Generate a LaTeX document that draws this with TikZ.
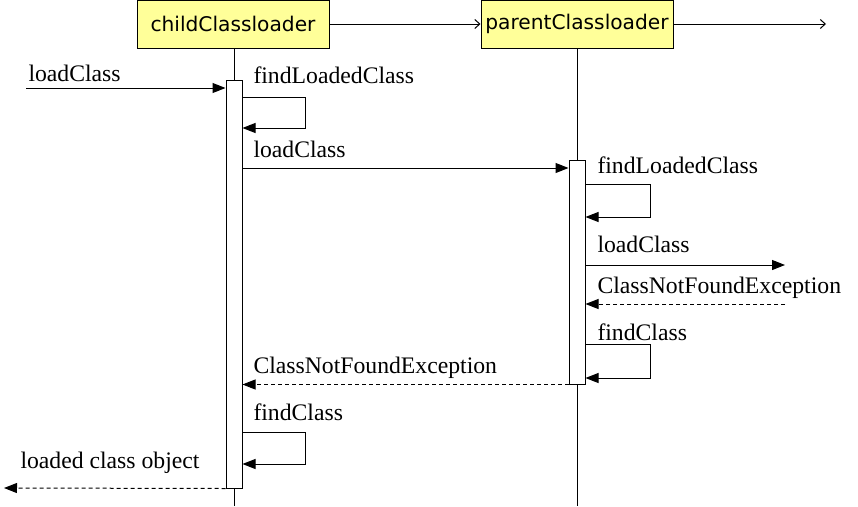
\documentclass[tikz,border=0pt]{standalone}
\usepackage{fontspec}
\setmainfont{Liberation Serif}
\newfontfamily\headfont{DejaVu Sans}
\usetikzlibrary{arrows.meta}
\definecolor{headyellow}{HTML}{FFFF99}
\begin{document}
\begin{tikzpicture}[x=1pt,y=-1pt,line width=1pt,
		head/.style={draw,fill=headyellow,minimum width=192pt,minimum height=48pt,inner sep=0pt,font=\headfont\fontsize{20.2}{24}\selectfont},
		act/.style={draw,fill=white,minimum width=16pt,inner sep=0pt},
		msg/.style={-{Triangle[length=13pt,width=10pt]}},
		ret/.style={msg,dash pattern=on 4pt off 3pt},
		open/.style={-{Straight Barb[length=5pt,width=9pt]}},
		lbl/.style={anchor=base west,inner sep=0pt,font=\fontsize{23.7}{28}\selectfont}]
		\useasboundingbox (0,0) rectangle (858,506);
		\node[head] (child) at (233,24) {childClassloader};
		\node[head] (parent) at (577,24) {parentClassloader};
		\coordinate (next) at (826,24);
		\draw[open] (child) -- (parent);
		\draw[open] (parent) -- (next);
		\draw (child.south -| 234,0) -- (234,506);
		\draw (parent.south) -- (577,506);
		\node[act,minimum height=408pt] (cact) at (234,284) {};
		\node[act,minimum height=224pt] (pact) at (577,272) {};
		\coordinate (caller) at (26,88);
		\coordinate (out) at (785,265);
		\coordinate (back) at (785,304);
		\coordinate (result) at (4,488);
		\draw[msg] (caller) -- (caller -| cact.west);
		\node[lbl] at (28,81) {loadClass};
		\draw[msg] (cact.east |- 0,97) -- (305,97) -- (305,128) -- (cact.east |- 0,128);
		\node[lbl] at (253,83) {findLoadedClass};
		\draw[msg] (cact.east |- 0,168) -- (pact.west |- 0,168);
		\node[lbl] at (253,157) {loadClass};
		\draw[msg] (pact.east |- 0,184) -- (650,184) -- (650,217) -- (pact.east |- 0,217);
		\node[lbl] at (597,173) {findLoadedClass};
		\draw[msg] (pact.east |- out) -- (out);
		\node[lbl] at (597,252) {loadClass};
		\draw[ret] (back) -- (pact.east |- back);
		\node[lbl] at (597,293) {ClassNotFoundException};
		\draw[msg] (pact.east |- 0,344) -- (650,344) -- (650,378) -- (pact.east |- 0,378);
		\node[lbl] at (597,340) {findClass};
		\draw[ret] (pact.south west) -- (cact.east |- pact.south);
		\node[lbl] at (253,373) {ClassNotFoundException};
		\draw[msg] (cact.east |- 0,432) -- (305,432) -- (305,464) -- (cact.east |- 0,464);
		\node[lbl] at (253,420) {findClass};
		\draw[ret] (cact.south west) -- (result);
		\node[lbl] at (20,468) {loaded class object};
	\end{tikzpicture}
\end{document}
